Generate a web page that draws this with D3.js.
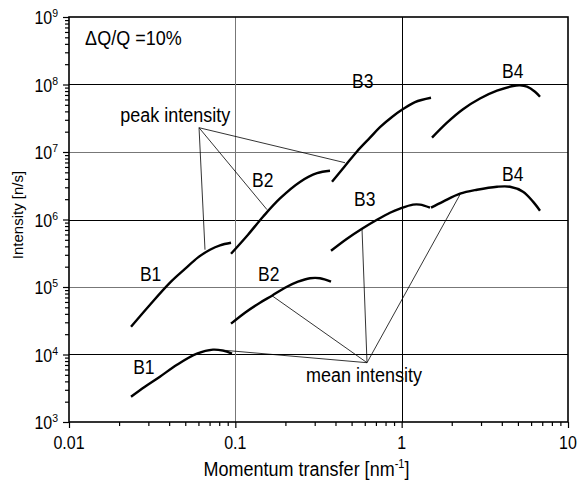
<!DOCTYPE html>
<html>
<head>
<meta charset="utf-8">
<script src="https://cdn.jsdelivr.net/npm/d3@7"></script>
<style>
  body { margin: 0; background: #fff; }
  svg { display: block; }
  text { font-family: "Liberation Sans", Arial, Helvetica, sans-serif; fill: #000; }
</style>
</head>
<body>
<svg id="chart" width="578" height="486"></svg>
<script>
// Axis ranges and tick labels
const xDomain = [0.01, 10];
const yDomain = [1e3, 1e9];
const xTickValues = [0.01, 0.1, 1, 10];
const xTickLabels = ["0.01", "0.1", "1", "10"];
const yTickExponents = [3, 4, 5, 6, 7, 8, 9];
const xGridValues = [0.1, 1];
const yGridValues = [1e4, 1e5, 1e6, 1e7, 1e8];

// Peak intensity per detector bank: [Q (nm^-1), I (n/s)]
const peakB1 = [[0.0236, 2.58e4], [0.0307, 5.47e4], [0.0405, 1.16e5], [0.0498, 1.85e5],
                [0.0597, 2.75e5], [0.0704, 3.57e5], [0.0809, 4.15e5], [0.0942, 4.53e5]];
const peakB2 = [[0.0942, 3.11e5], [0.1192, 5.96e5], [0.1467, 1.10e6], [0.1856, 2.05e6],
                [0.2447, 3.60e6], [0.3097, 4.85e6], [0.3708, 5.28e6]];
const peakB3 = [[0.3813, 3.63e6], [0.4564, 6.20e6], [0.5389, 1.02e7], [0.6452, 1.63e7],
                [0.7410, 2.33e7], [0.8747, 3.30e7], [1.019, 4.32e7], [1.203, 5.50e7], [1.501, 6.37e7]];
const peakB4 = [[1.522, 1.63e7], [1.873, 2.72e7], [2.338, 4.30e7], [2.958, 6.20e7],
                [3.743, 8.09e7], [4.671, 9.50e7], [5.146, 9.70e7], [5.669, 9.30e7],
                [6.334, 7.82e7], [6.787, 6.60e7]];

// Mean intensity per detector bank
const meanB1 = [[0.0236, 2.37e3], [0.0286, 3.33e3], [0.0352, 4.69e3], [0.0446, 7.06e3],
                [0.0588, 1.03e4], [0.0734, 1.18e4], [0.0843, 1.14e4], [0.0955, 1.03e4]];
const meanB2 = [[0.0942, 2.86e4], [0.1143, 4.16e4], [0.1407, 5.85e4], [0.1661, 7.43e4],
                [0.1989, 9.77e4], [0.2381, 1.20e5], [0.2811, 1.35e5], [0.3228, 1.35e5], [0.3760, 1.20e5]];
const meanB3 = [[0.3760, 3.45e5], [0.4692, 5.20e5], [0.5775, 7.31e5], [0.7107, 9.93e5],
                [0.8508, 1.26e6], [0.9772, 1.45e6], [1.170, 1.66e6], [1.289, 1.66e6], [1.480, 1.50e6]];
const meanB4 = [[1.501, 1.50e6], [1.773, 1.84e6], [2.243, 2.41e6], [2.838, 2.76e6],
                [3.743, 3.06e6], [4.481, 3.06e6], [5.364, 2.58e6], [6.161, 1.84e6], [6.787, 1.35e6]];

const seriesList = [peakB1, peakB2, peakB3, peakB4, meanB1, meanB2, meanB3, meanB4];

// Bank labels: [text, Q, I] of the label's left baseline
const bankLabels = [
  ["B1", 0.0267, 1.24e5], ["B2", 0.1259, 3.06e6], ["B3", 0.5029, 8.97e7], ["B4", 4.01, 1.26e8],
  ["B1", 0.0243, 5.2e3],  ["B2", 0.1369, 1.24e5], ["B3", 0.517, 1.6e6],   ["B4", 4.01, 3.76e6]
];

// Leader lines from the two callouts to the curves
const peakCallout = { text: "peak intensity", at: [0.0203, 2.81e7], hub: [0.0605, 2.29e7],
  targets: [[0.0657, 3.57e5], [0.155, 1.40e6], [0.4564, 6.94e6]] };
const meanCallout = { text: "mean intensity", at: [0.266, 3.96e3], hub: [0.619, 7.56e3],
  targets: [[0.0776, 1.18e4], [0.1661, 7.43e4], [0.5775, 7.31e5], [2.274, 2.49e6]] };

const resolutionNote = "\u0394Q/Q =10%";
const noteAt = [0.0125, 3.9e8];

// Layout
const plot = { left: 69, right: 568, top: 17, bottom: 422 };
const svg = d3.select("#chart");

const x = d3.scaleLog().domain(xDomain).range([plot.left, plot.right]);
const y = d3.scaleLog().domain(yDomain).range([plot.bottom, plot.top]);

const stretch = "scale(1,1.12)";
function hText(px, py, str, size, anchor) {
  return svg.append("text")
    .attr("transform", `translate(${px},${py}) ${stretch}`)
    .attr("text-anchor", anchor || "start")
    .style("font-size", size + "px")
    .text(str);
}

// Even decades are drawn solid black, odd decades in a lighter grey
const gridStroke = d => (Math.round(Math.log10(d)) % 2 === 0) ? "#000" : "#777";

svg.append("g").selectAll("line").data(yGridValues).join("line")
  .attr("x1", plot.left).attr("x2", plot.right)
  .attr("y1", d => Math.round(y(d)) + 0.5).attr("y2", d => Math.round(y(d)) + 0.5)
  .attr("stroke", gridStroke).attr("stroke-width", 1);
svg.append("g").selectAll("line").data(xGridValues).join("line")
  .attr("y1", plot.top).attr("y2", plot.bottom)
  .attr("x1", d => Math.round(x(d)) + 0.5).attr("x2", d => Math.round(x(d)) + 0.5)
  .attr("stroke", d => d === 1 ? "#000" : "#777").attr("stroke-width", 1);

const isDecade = d => Math.abs(Math.log10(d) - Math.round(Math.log10(d))) < 1e-6;

// Bottom axis with minor ticks
const xAxis = d3.axisBottom(x)
  .tickValues(d3.range(-2, 1).flatMap(e => d3.range(1, 10).map(m => m * Math.pow(10, e))).concat([10]))
  .tickSize(4).tickFormat("");
const gx = svg.append("g").attr("transform", `translate(0,${plot.bottom})`).call(xAxis);
gx.select(".domain").remove();
gx.selectAll(".tick line").attr("stroke", "#000").attr("stroke-width", 1.2)
  .attr("y2", d => isDecade(d) ? 6 : 4);

// Left axis with minor ticks
const yAxis = d3.axisLeft(y)
  .tickValues(d3.range(3, 9).flatMap(e => d3.range(1, 10).map(m => m * Math.pow(10, e))).concat([1e9]))
  .tickSize(4).tickFormat("");
const gy = svg.append("g").attr("transform", `translate(${plot.left},0)`).call(yAxis);
gy.select(".domain").remove();
gy.selectAll(".tick line").attr("stroke", "#000").attr("stroke-width", 1.2)
  .attr("x2", d => isDecade(d) ? -6 : -4);

// Frame
svg.append("rect")
  .attr("x", plot.left).attr("y", plot.top)
  .attr("width", plot.right - plot.left).attr("height", plot.bottom - plot.top)
  .attr("fill", "none").attr("stroke", "#000").attr("stroke-width", 1.6);

// X tick labels
xTickValues.forEach((v, i) => hText(x(v), 449, xTickLabels[i], 16, "middle"));

// Y tick labels: 10 with superscript exponent
yTickExponents.forEach(e => {
  const py = y(Math.pow(10, e));
  const t = svg.append("text")
    .attr("transform", `translate(58,${py + 7}) ${stretch}`)
    .attr("text-anchor", "end")
    .style("font-size", "16px");
  t.append("tspan").text("10");
  t.append("tspan").attr("dy", -6).style("font-size", "10.5px").text(e);
});

// Axis titles
const xt = svg.append("text")
  .attr("transform", `translate(${(plot.left + plot.right) / 2 - 12},476) ${stretch}`)
  .attr("text-anchor", "middle").style("font-size", "18px");
xt.append("tspan").text("Momentum transfer [nm");
xt.append("tspan").attr("dy", -7).style("font-size", "11px").text("-1");
xt.append("tspan").attr("dy", 7).text("]");

svg.append("text")
  .attr("transform", `translate(23,215) rotate(-90)`)
  .attr("text-anchor", "middle").style("font-size", "15px")
  .text("Intensity [n/s]");

// Leader lines
[peakCallout, meanCallout].forEach(c => {
  svg.append("g").selectAll("line").data(c.targets).join("line")
    .attr("x1", x(c.hub[0])).attr("y1", y(c.hub[1]))
    .attr("x2", d => x(d[0])).attr("y2", d => y(d[1]))
    .attr("stroke", "#000").attr("stroke-width", 0.8);
  hText(x(c.at[0]), y(c.at[1]), c.text, 18);
});

// Intensity curves
const line = d3.line().x(d => x(d[0])).y(d => y(d[1])).curve(d3.curveCatmullRom.alpha(0.5));
svg.append("g").selectAll("path").data(seriesList).join("path")
  .attr("d", line)
  .attr("fill", "none").attr("stroke", "#000").attr("stroke-width", 2.4)
  .attr("stroke-linecap", "butt").attr("stroke-linejoin", "round");

// Bank labels
bankLabels.forEach(([s, q, v]) => hText(x(q), y(v), s, 17.5));

// Resolution note
hText(x(noteAt[0]), y(noteAt[1]), resolutionNote, 18);
</script>
</body>
</html>
